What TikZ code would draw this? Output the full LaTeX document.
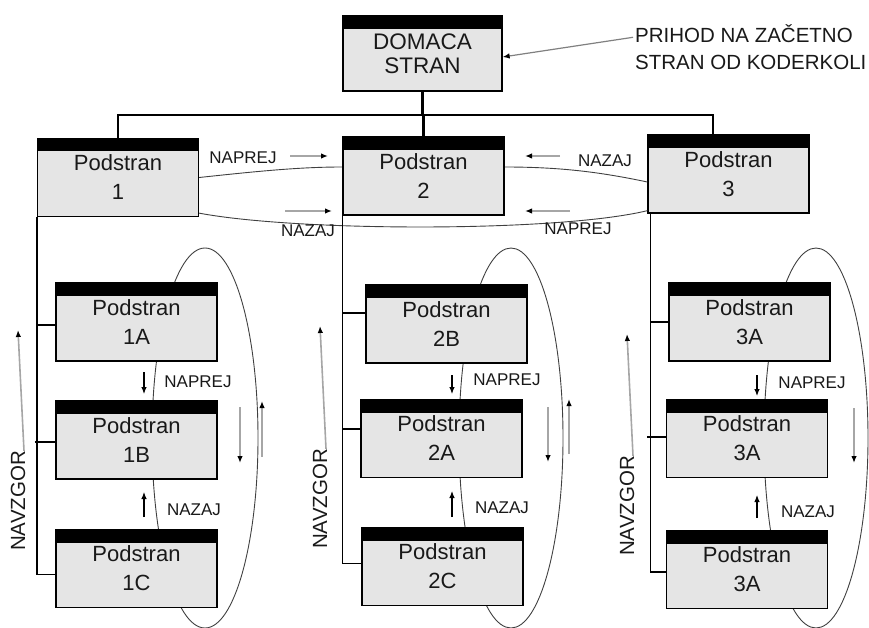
\documentclass[tikz,border=0pt]{standalone}
\usepackage{fontspec}
\setmainfont{Liberation Sans}
\usetikzlibrary{arrows.meta}
\begin{document}
\begin{tikzpicture}[x=1pt,y=-1pt,
  pbox/.style={draw=black, line width=1.3pt, fill=gray!20, minimum width=161pt, minimum height=78pt,
    inner sep=0pt, align=center, text=black!90, font=\fontsize{22}{29}\selectfont,
    path picture={\fill[black] (path picture bounding box.north west) rectangle ([yshift=-13pt]path picture bounding box.north east);}},
  dbox/.style={pbox, minimum width=159pt, minimum height=75pt, font=\fontsize{22.5}{24}\selectfont},
  lbl/.style={inner sep=0pt, text=black!90, font=\fontsize{17}{20}\selectfont},
  busline/.style={line width=2.2pt, black},
  colline/.style={line width=1.3pt, black},
  thinline/.style={line width=0.9pt, black!75},
  ell/.style={line width=0.9pt, black!75},
  garrow/.style={line width=1.6pt, black!35, -{Latex[length=7pt,width=5.5pt,color=black]}},
  barrow/.style={line width=1.1pt, black, -{Latex[length=7pt,width=5.5pt]}}
]
\useasboundingbox (0,0) rectangle (869,628);

% ellipses (behind boxes)
\draw[ell] (205,438) ellipse [x radius=53, y radius=190];
\draw[ell] (511,438) ellipse [x radius=52, y radius=190];
\draw[ell] (816,438) ellipse [x radius=52, y radius=190];

\path (422.5,53.5) coordinate (cD)
      (118,177.5) coordinate (c1) (423.5,176) coordinate (c2) (728.5,174) coordinate (c3);

% top level boxes
\node[dbox] (D) at (cD) {DOMACA\\STRAN};
\node[pbox] (P1) at (c1) {Podstran\\1};
\node[pbox] (P2) at (c2) {Podstran\\2};
\node[pbox] (P3) at (c3) {Podstran\\3};

% curves between level-1 pages
\draw[thinline] (P1.east) .. controls (260,171) and (300,167) .. ([yshift=9pt]P2.west);
\draw[thinline] ([yshift=9pt]P2.east) .. controls (560,167) and (600,172) .. ([yshift=-8pt]P3.west);
\draw[thinline] ([yshift=4pt]P1.south east) .. controls (300,232) and (560,232) .. ([yshift=3pt]P3.south west);
% redraw P2 on top of the lower curve
\node[pbox] (P2) at (c2) {Podstran\\2};

% bus
\coordinate (bus) at (0,115);
\coordinate (p3n) at ([xshift=-15.5pt]P3.north);
\draw[busline] (D.south) -- (D.south |- bus);
\draw[busline] (P1.north) |- (bus -| p3n) -- (p3n);
\draw[busline] (P2.north) -- (P2.north |- bus);

% sub pages
\node[pbox] (s1a) at (136.5,322) {Podstran\\1A};
\node[pbox] (s1b) at (136.5,440) {Podstran\\1B};
\node[pbox] (s1c) at (136.5,568.5) {Podstran\\1C};
\node[pbox] (s2b) at (446.5,324) {Podstran\\2B};
\node[pbox] (s2a) at (441.5,438.5) {Podstran\\2A};
\node[pbox] (s2c) at (442.5,566.5) {Podstran\\2C};
\node[pbox] (s3a) at (749.5,322) {Podstran\\3A};
\node[pbox] (s3b) at (747,438.5) {Podstran\\3A};
\node[pbox] (s3c) at (747,569.5) {Podstran\\3A};

% branch points
\coordinate (b1a) at ([yshift=-3pt]s1a.west);
\coordinate (b1b) at ([yshift=-2pt]s1b.west);
\coordinate (b1c) at ([yshift=-6pt]s1c.west);
\coordinate (b2b) at ([yshift=11pt]s2b.west);
\coordinate (b2a) at ([yshift=9.5pt]s2a.west);
\coordinate (b2c) at ([yshift=3pt]s2c.west);
\coordinate (b3a) at (s3a.west);
\coordinate (b3b) at ([yshift=1.5pt]s3b.west);
\coordinate (b3c) at ([yshift=-2.5pt]s3c.west);
\coordinate (t1) at (P1.south west);
\coordinate (t1s) at ([xshift=-2pt]P1.south west);
\coordinate (t2) at (P2.south west);
\coordinate (t3) at ([xshift=3pt]P3.south west);
\coordinate (t3s) at ([xshift=0pt]P3.south west);

% column trees
\draw[colline] (t1) |- (b1c);
\draw[colline] (t1 |- b1a) -- (b1a);
\draw[colline] (t1s |- b1b) -- (b1b);

\draw[colline] (t2) |- (b2c);
\draw[colline] (t2 |- b2b) -- (b2b);
\draw[colline] (t2 |- b2a) -- (b2a);

\draw[colline] (t3) |- (b3c);
\draw[colline] (t3 |- b3a) -- (b3a);
\draw[colline] (t3s |- b3b) -- (b3b);

% entry note
\node[inner sep=0pt, anchor=west, align=left, text=black!90, font=\fontsize{20.5}{27}\selectfont] (prih) at (635,47.3)
  {PRIHOD NA ZAČETNO\\STRAN OD KODERKOLI};
\draw[line width=1.2pt, black!50, -{Latex[length=7pt,width=5.5pt,color=black]}] ([xshift=-2pt,yshift=10pt]prih.west) -- ([yshift=-3.5pt]D.east);

% level-1 labels and arrows
\node[lbl] (n1) at (243,158) {NAPREJ};
\draw[garrow] (290,156) -- (328,156);
\node[lbl] (n2) at (308,231) {NAZAJ};
\draw[garrow] (285,211) -- (332,211);
\node[lbl] (n3) at (605,161) {NAZAJ};
\draw[garrow] (560,156) -- (525,156);
\node[lbl] (n4) at (578,229) {NAPREJ};
\draw[garrow] (570,211) -- (525,211);

% column 1
\draw[barrow] (144,372) -- (144,394);
\node[lbl] (l1a) at (198,382) {NAPREJ};
\draw[barrow] (144,517) -- (144,492);
\node[lbl] (l1b) at (194,510) {NAZAJ};
\draw[garrow] (240,407) -- (240,463);
\draw[garrow] (262,457) -- (262,401);
\node[lbl, rotate=90, font=\fontsize{20.5}{24}\selectfont] (nv1) at (18,501) {NAVZGOR};
\draw[garrow] ([xshift=6pt]nv1.east) -- (18,330);

% column 2
\draw[barrow] (452,375) -- (452,394);
\node[lbl] (l2a) at (507,380) {NAPREJ};
\draw[barrow] (452,517) -- (452,491);
\node[lbl] (l2b) at (502,508) {NAZAJ};
\draw[garrow] (548,407) -- (548,462);
\draw[garrow] (569,454) -- (569,399);
\node[lbl, rotate=90, font=\fontsize{20.5}{24}\selectfont] (nv2) at (320,499) {NAVZGOR};
\draw[garrow] ([xshift=6pt]nv2.east) -- (320,326);

% column 3
\draw[barrow] (757,375) -- (757,396);
\node[lbl] (l3a) at (812,383) {NAPREJ};
\draw[barrow] (757,518) -- (757,495);
\node[lbl] (l3b) at (808,512) {NAZAJ};
\draw[garrow] (854,408) -- (854,463);
\node[lbl, rotate=90, font=\fontsize{20.5}{24}\selectfont] (nv3) at (627,506) {NAVZGOR};
\draw[garrow] ([xshift=6pt]nv3.east) -- (627,334);
\end{tikzpicture}
\end{document}
